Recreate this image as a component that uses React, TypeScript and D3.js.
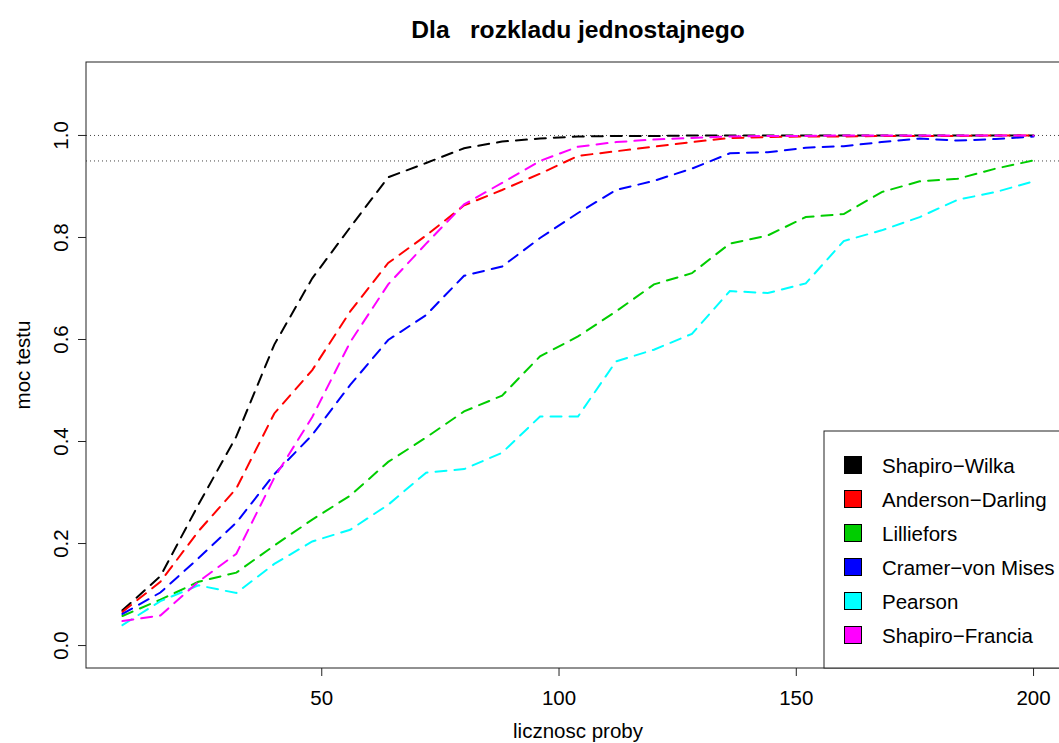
import React from "react";
import * as d3 from "d3";

const sampleSizes = [8, 16, 24, 32, 40, 48, 56, 64, 72, 80, 88, 96, 104, 112, 120, 128, 136, 144, 152, 160, 168, 176, 184, 192, 200];

const shapiroWilk = [0.069, 0.136, 0.276, 0.41, 0.59, 0.72, 0.82, 0.918, 0.946, 0.975, 0.988, 0.994, 0.998, 0.999, 0.999, 1.0, 1.0, 1.0, 1.0, 1.0, 1.0, 1.0, 1.0, 1.0, 1.0];
const andersonDarling = [0.066, 0.125, 0.224, 0.308, 0.455, 0.54, 0.655, 0.75, 0.804, 0.863, 0.893, 0.925, 0.96, 0.969, 0.978, 0.987, 0.995, 0.997, 0.998, 0.998, 0.999, 0.999, 0.999, 1.0, 1.0];
const lilliefors = [0.058, 0.09, 0.125, 0.143, 0.196, 0.247, 0.294, 0.36, 0.408, 0.459, 0.49, 0.567, 0.606, 0.655, 0.708, 0.73, 0.788, 0.804, 0.84, 0.846, 0.889, 0.91, 0.915, 0.935, 0.951];
const cramerVonMises = [0.062, 0.104, 0.171, 0.241, 0.336, 0.413, 0.511, 0.599, 0.648, 0.725, 0.743, 0.799, 0.848, 0.893, 0.911, 0.935, 0.965, 0.967, 0.976, 0.979, 0.987, 0.994, 0.99, 0.993, 0.998];
const pearson = [0.04, 0.087, 0.118, 0.103, 0.16, 0.204, 0.227, 0.276, 0.339, 0.346, 0.378, 0.449, 0.449, 0.557, 0.58, 0.611, 0.695, 0.691, 0.71, 0.793, 0.814, 0.84, 0.874, 0.889, 0.91];
const shapiroFrancia = [0.048, 0.059, 0.125, 0.18, 0.329, 0.448, 0.595, 0.708, 0.788, 0.865, 0.907, 0.95, 0.978, 0.987, 0.992, 0.995, 0.998, 0.999, 0.999, 1.0, 1.0, 1.0, 1.0, 1.0, 1.0];

const seriesNames = ["Shapiro\u2212Wilka", "Anderson\u2212Darling", "Lilliefors", "Cramer\u2212von Mises", "Pearson", "Shapiro\u2212Francia"];
const seriesColors = ["#000000", "#FF0000", "#00CD00", "#0000FF", "#00FFFF", "#FF00FF"];
const seriesValues = [shapiroWilk, andersonDarling, lilliefors, cramerVonMises, pearson, shapiroFrancia];

const xTicks = [50, 100, 150, 200];
const yTicks = [0, 0.2, 0.4, 0.6, 0.8, 1.0];
const refLines = [1.0, 0.95];

const W = 1059;
const H = 743;
const left = 86, right = 1070, top = 62, bottom = 668;
const FONT = "'Liberation Sans', Arial, Helvetica, sans-serif";

export default function App() {
  const x = d3.scaleLinear().domain([0.32, 207.68]).range([left, right]);
  const y = d3.scaleLinear().domain([-0.044, 1.144]).range([bottom, top]);
  const line = d3
    .line<[number, number]>()
    .x((d) => x(d[0]))
    .y((d) => y(d[1]));

  const legendLeft = 824;
  const legendTop = 431;
  const rowY0 = 465;
  const rowStep = 34;

  return (
    <svg
      width={W}
      height={H}
      style={{ position: "fixed", left: 0, top: 0, background: "#fff" }}
      fontFamily={FONT}
    >
      <rect x={0} y={0} width={W} height={H} fill="#fff" />
      {/* reference dotted lines */}
      {refLines.map((r) => (
        <line
          key={r}
          x1={left}
          x2={right}
          y1={y(r)}
          y2={y(r)}
          stroke="#444"
          strokeWidth={1}
          strokeDasharray="1 3"
        />
      ))}
      {/* series */}
      {seriesValues.map((vals, i) => (
        <path
          key={i}
          d={line(sampleSizes.map((n, j) => [n, vals[j]] as [number, number])) || ""}
          fill="none"
          stroke={seriesColors[i]}
          strokeWidth={2}
          strokeDasharray="11 8"
          strokeLinecap="round"
        />
      ))}
      {/* plot box */}
      <rect x={left} y={top} width={right - left} height={bottom - top} fill="none" stroke="#222" strokeWidth={1} />
      {/* x axis */}
      {xTicks.map((t) => (
        <g key={t}>
          <line x1={x(t)} x2={x(t)} y1={bottom} y2={bottom + 8} stroke="#222" />
          <text x={x(t)} y={705} textAnchor="middle" fontSize={20.5} fill="#000">
            {t}
          </text>
        </g>
      ))}
      {/* y axis */}
      {yTicks.map((t) => (
        <g key={t}>
          <line x1={left - 8} x2={left} y1={y(t)} y2={y(t)} stroke="#222" />
          <text
            transform={`translate(68, ${y(t)}) rotate(-90)`}
            textAnchor="middle"
            fontSize={20.5}
            fill="#000"
          >
            {t.toFixed(1)}
          </text>
        </g>
      ))}
      {/* titles */}
      <text
        x={(left + right) / 2}
        y={38}
        textAnchor="middle"
        fontSize={24.6}
        fontWeight="bold"
        style={{ whiteSpace: "pre" }}
        fill="#000"
      >
        {"Dla   rozkladu jednostajnego"}
      </text>
      <text x={(left + right) / 2} y={738} textAnchor="middle" fontSize={20.5} fill="#000">
        licznosc proby
      </text>
      <text transform={`translate(30, ${(top + bottom) / 2}) rotate(-90)`} textAnchor="middle" fontSize={20.5} fill="#000">
        moc testu
      </text>
      {/* legend */}
      <rect x={legendLeft} y={legendTop} width={right - legendLeft} height={bottom - legendTop} fill="#fff" stroke="#222" strokeWidth={1} />
      {seriesNames.map((name, i) => (
        <g key={name}>
          <rect
            x={844.5}
            y={rowY0 + i * rowStep - 8.5}
            width={17}
            height={17}
            fill={seriesColors[i]}
            stroke="#000"
            strokeWidth={1}
          />
          <text x={882} y={rowY0 + i * rowStep + 7.5} fontSize={20.5} fill="#000">
            {name}
          </text>
        </g>
      ))}
    </svg>
  );
}
